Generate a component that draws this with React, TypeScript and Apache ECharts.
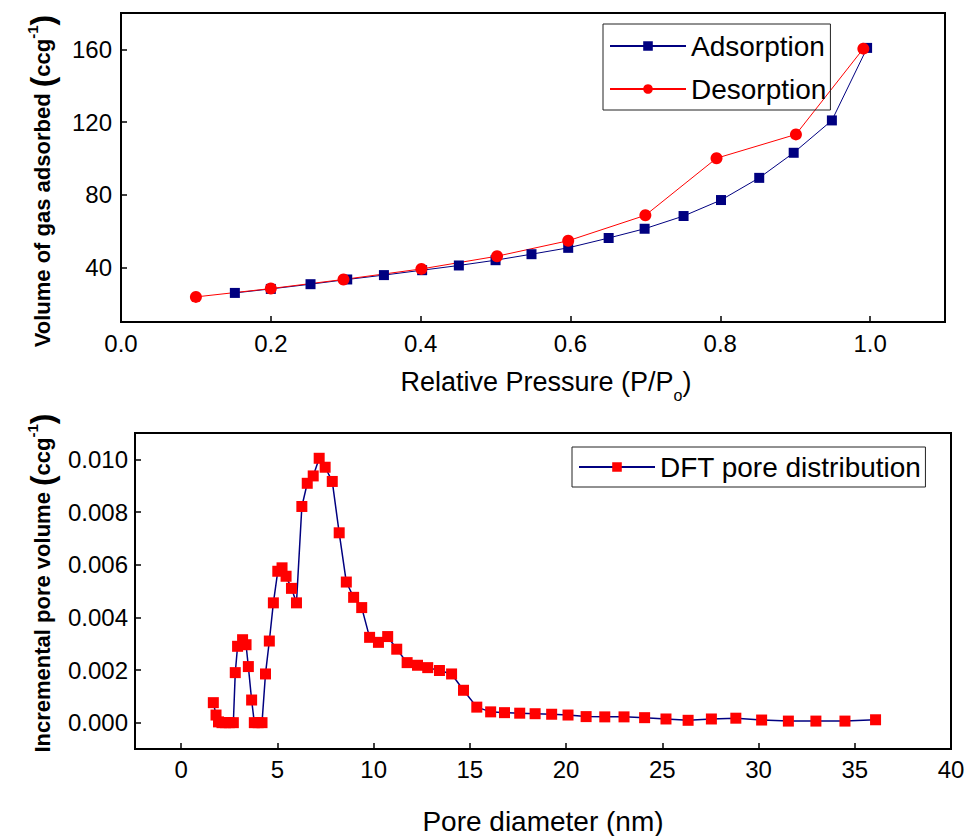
import React, { useEffect, useRef } from "react";
import * as echarts from "echarts";

// ---- Top chart: N2 isotherm ----
const adsX = [0.152, 0.2, 0.253, 0.302, 0.351, 0.402, 0.451, 0.5, 0.548, 0.597, 0.651, 0.699, 0.751, 0.801, 0.852, 0.898, 0.949, 0.996];
const adsY = [26.0, 28.2, 30.8, 33.4, 35.8, 38.5, 41.1, 44.0, 47.3, 50.8, 56.2, 61.3, 68.3, 77.1, 89.3, 103.1, 120.9, 160.8];
const desX = [0.1, 0.2, 0.297, 0.401, 0.502, 0.597, 0.7, 0.795, 0.901, 0.991];
const desY = [23.8, 28.4, 33.4, 39.2, 46.2, 54.7, 68.7, 100.1, 113.2, 160.4];
const topXTicks = [0, 0.2, 0.4, 0.6, 0.8, 1.0];
const topYTicks = [40, 80, 120, 160];

// ---- Bottom chart: DFT pore size distribution ----
const poreX = [1.67, 1.81, 1.94, 2.12, 2.3, 2.5, 2.71, 2.81, 2.93, 3.19, 3.37, 3.49, 3.66, 3.8, 4.0, 4.2, 4.38, 4.58, 4.79, 5.02, 5.24, 5.45, 5.73, 5.99, 6.27, 6.55, 6.86, 7.17, 7.48, 7.85, 8.21, 8.58, 8.96, 9.38, 9.79, 10.25, 10.73, 11.2, 11.74, 12.28, 12.81, 13.42, 14.05, 14.67, 15.36, 16.08, 16.8, 17.59, 18.39, 19.25, 20.1, 21.04, 22.01, 23.01, 24.08, 25.19, 26.34, 27.55, 28.82, 30.16, 31.55, 32.98, 34.49, 36.08];
const poreY = [0.00076, 0.00029, 0.00003, 0, 0, 0, 0, 0.0019, 0.0029, 0.00315, 0.00296, 0.00213, 0.00086, 0, 0, 0, 0.00185, 0.0031, 0.00455, 0.00575, 0.00588, 0.00556, 0.0051, 0.00455, 0.00821, 0.00909, 0.00937, 0.01004, 0.0097, 0.00916, 0.00721, 0.00534, 0.00476, 0.00437, 0.00324, 0.00305, 0.00327, 0.00279, 0.00228, 0.00218, 0.00209, 0.00198, 0.00185, 0.00123, 0.00059, 0.00041, 0.00038, 0.00036, 0.00034, 0.00032, 0.00029, 0.00023, 0.00022, 0.00022, 0.00019, 0.00014, 0.00009, 0.00014, 0.00017, 0.0001, 0.00006, 0.00006, 0.00006, 0.00011];
const botXTicks = [0, 5, 10, 15, 20, 25, 30, 35, 40];
const botYTicks = [0, 0.002, 0.004, 0.006, 0.008, 0.01];

const FONT = "'Liberation Sans', Arial, sans-serif";
const zip = (xs: number[], ys: number[]) => xs.map((x, i) => [x, ys[i]]);

export default function App() {
  const ref = useRef<HTMLDivElement>(null);
  useEffect(() => {
    if (!ref.current) return;
    const chart = echarts.init(ref.current, null, { renderer: "svg" });
    const axisCommon = {
      axisLine: { show: true, onZero: false, lineStyle: { color: "#000", width: 2 } },
      axisTick: { show: true, inside: true, length: 6, lineStyle: { color: "#000", width: 1.5 } },
      splitLine: { show: false },
    };
    const labelStyle = { color: "#000", fontSize: 24, fontFamily: FONT };
    const titleRich = {
      b: { fontSize: 22, fontWeight: "bold", fontFamily: FONT, color: "#000" },
      p: { fontSize: 32, fontWeight: "bold", fontFamily: FONT, color: "#000" },
      s: { fontSize: 15, fontWeight: "bold", fontFamily: FONT, color: "#000", padding: [0, 0, 20, 0] },
    };
    chart.setOption({
      animation: false,
      backgroundColor: "#fff",
      grid: [
        { left: 121, top: 13, width: 824, height: 309, show: true, borderColor: "#000", borderWidth: 2 },
        { left: 135, top: 433, width: 816, height: 316, show: true, borderColor: "#000", borderWidth: 2 },
      ],
      xAxis: [
        {
          type: "value", gridIndex: 0, min: 0, max: 1.1, ...axisCommon,
          axisTick: { ...axisCommon.axisTick, customValues: topXTicks },
          axisLabel: { ...labelStyle, margin: 9, customValues: topXTicks, formatter: (v: number) => v.toFixed(1) },
          name: "{n|Relative Pressure (P/P}{o|o}{n|)}",
          nameLocation: "middle", nameGap: 39,
          nameTextStyle: {
            padding: [0, 0, 0, 26],
            rich: {
              n: { fontSize: 27, fontFamily: FONT, color: "#000" },
              o: { fontSize: 16, fontFamily: FONT, color: "#000", padding: [26, 0, 0, 0] },
            },
          },
        },
        {
          type: "value", gridIndex: 1, min: -2.4, max: 40, ...axisCommon,
          axisTick: { ...axisCommon.axisTick, customValues: botXTicks },
          axisLabel: { ...labelStyle, margin: 8, customValues: botXTicks },
          name: "Pore diameter (nm)", nameLocation: "middle", nameGap: 58,
          nameTextStyle: { fontSize: 28, fontFamily: FONT, color: "#000" },
        },
      ],
      yAxis: [
        {
          type: "value", gridIndex: 0, min: 10, max: 180, ...axisCommon,
          axisTick: { ...axisCommon.axisTick, customValues: topYTicks },
          axisLabel: { ...labelStyle, margin: 9, customValues: topYTicks },
        },
        {
          type: "value", gridIndex: 1, min: -0.001, max: 0.011, ...axisCommon,
          axisTick: { ...axisCommon.axisTick, customValues: botYTicks },
          axisLabel: { ...labelStyle, margin: 7, customValues: botYTicks, formatter: (v: number) => v.toFixed(3) },
        },
      ],
      legend: [
        {
          data: ["Adsorption", "Desorption"], orient: "vertical", left: 603, top: 24,
          itemWidth: 76, itemHeight: 12, itemGap: 15, padding: [8, 4, 7, 6],
          borderColor: "#222", borderWidth: 1,
          textStyle: { fontSize: 28, fontFamily: FONT, color: "#000" },
        },
        {
          data: ["DFT pore distribution"], orient: "vertical", left: 572, top: 447,
          itemWidth: 76, itemHeight: 12, padding: [6, 4, 6, 6],
          borderColor: "#222", borderWidth: 1,
          textStyle: { fontSize: 28, fontFamily: FONT, color: "#000" },
        },
      ],
      graphic: [
        {
          type: "text", x: 42, y: 181, rotation: Math.PI / 2,
          style: {
            text: "{b|Volume of gas adsorbed }{p|(}{b|ccg}{s|-1}{p|)}",
            rich: titleRich, align: "center", verticalAlign: "middle",
          },
        },
        {
          type: "text", x: 42, y: 583, rotation: Math.PI / 2,
          style: {
            text: "{b|Incremental pore volume }{p|(}{b|ccg}{s|-1}{p|)}",
            rich: titleRich, align: "center", verticalAlign: "middle",
          },
        },
      ],
      series: [
        {
          name: "Adsorption", type: "line", xAxisIndex: 0, yAxisIndex: 0,
          data: zip(adsX, adsY), symbol: "rect", symbolSize: 10,
          lineStyle: { color: "#000080", width: 1 }, itemStyle: { color: "#000080" },
        },
        {
          name: "Desorption", type: "line", xAxisIndex: 0, yAxisIndex: 0,
          data: zip(desX, desY), symbol: "circle", symbolSize: 12,
          lineStyle: { color: "#ff0000", width: 1 }, itemStyle: { color: "#ff0000" },
        },
        {
          name: "DFT pore distribution", type: "line", xAxisIndex: 1, yAxisIndex: 1,
          data: zip(poreX, poreY), symbol: "rect", symbolSize: 11,
          lineStyle: { color: "#000080", width: 1.5 }, itemStyle: { color: "#ff0000" },
        },
      ],
    });
    return () => chart.dispose();
  }, []);
  return <div ref={ref} style={{ position: "absolute", left: 0, top: 0, width: 978, height: 836 }} />;
}
